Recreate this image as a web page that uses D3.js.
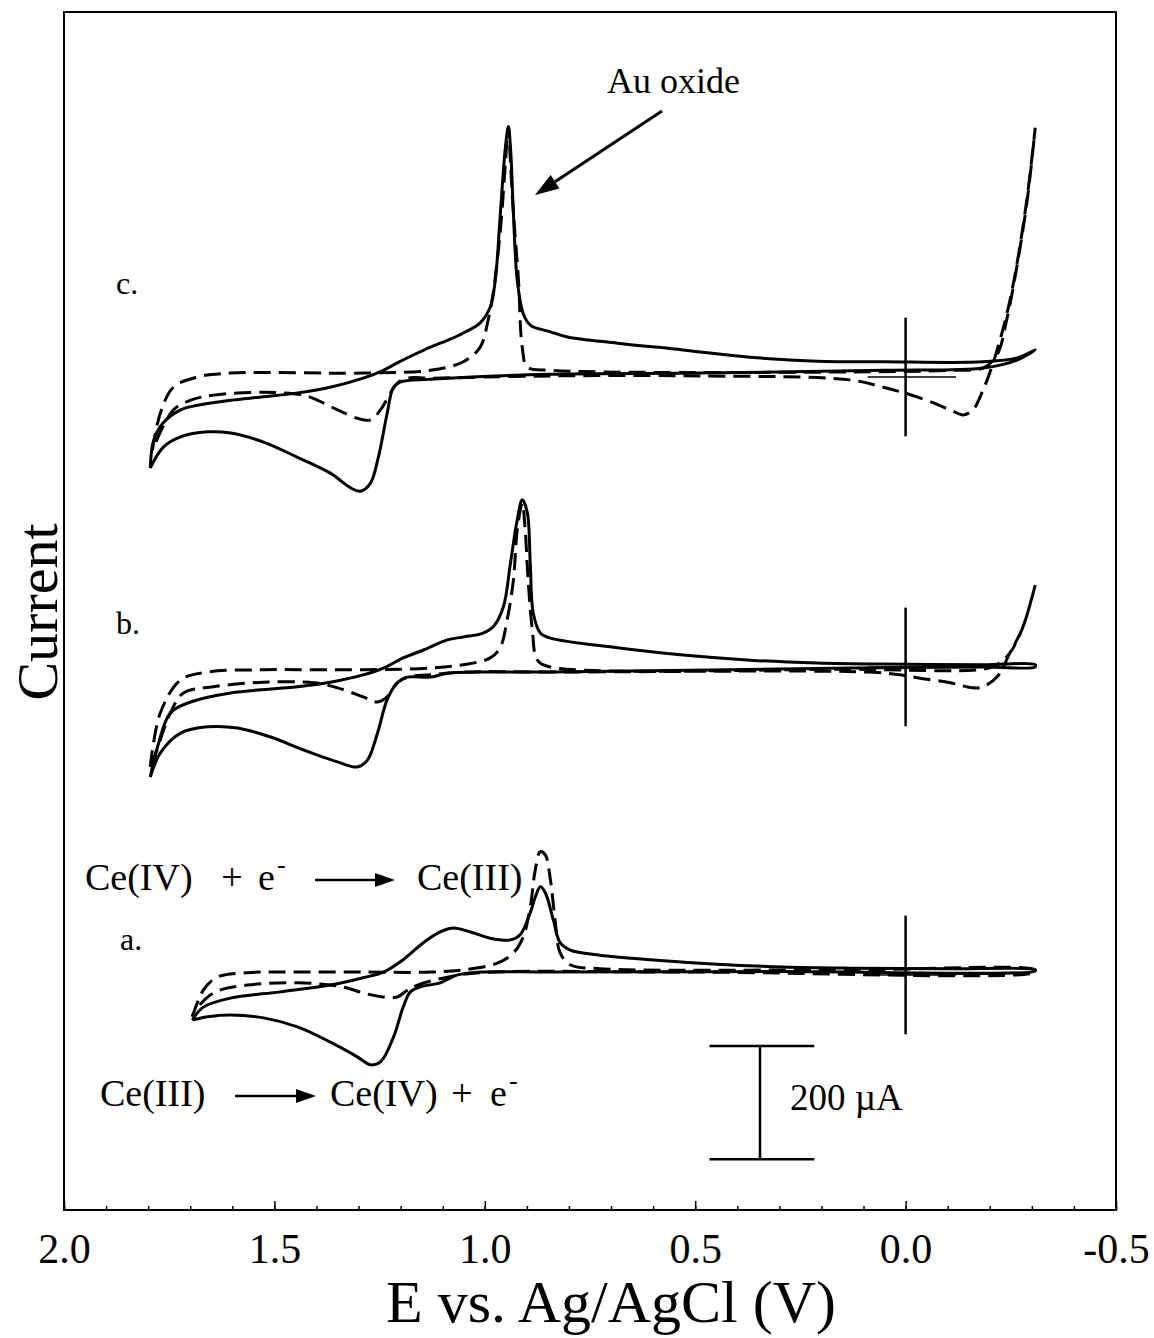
<!DOCTYPE html>
<html>
<head>
<meta charset="utf-8">
<script src="https://cdn.jsdelivr.net/npm/d3@7/dist/d3.min.js"></script>
<style>
  body { margin: 0; background: #fff; }
  text { font-family: "Liberation Serif", "Times New Roman", serif; fill: #000; }
</style>
</head>
<body>
<svg id="chart" width="1154" height="1338"></svg>
<script>
// Potential axis (V vs. Ag/AgCl), drawn high-to-low
const potentialTicks = [2.0, 1.5, 1.0, 0.5, 0.0, -0.5];
const potentialDomain = [2.0, -0.5];

// Vertical offset (µA) of each voltammogram's zero-current line: a, b, c
const traceNames = ["a.", "b.", "c."];
const traceOffsets = [416, 961, 1474];

// Each loop: cathodic sweep (high E -> low E) followed by anodic sweep back. [E (V), I (µA)]
const solidA = [
  [1.695,-80],[1.669,-57],[1.604,-41],[1.486,-30],[1.367,-18],[1.289,-5],[1.241,5],[1.194,27],
  [1.146,57],[1.106,76],[1.075,83],[1.034,76],[0.987,65],[0.939,62],[0.916,71],[0.892,110],
  [0.880,138],[0.868,156],[0.856,145],[0.837,97],[0.821,57],[0.797,44],[0.726,35],[0.607,27],
  [0.448,19],[0.291,14],[0.132,12],[-0.106,11],[-0.308,9],
  [-0.308,7],[0.300,6],[0.844,5],[1.011,5],[1.065,0],[1.106,-14],[1.153,-21],[1.177,-30],
  [1.194,-57],[1.217,-110],[1.248,-154],[1.272,-159],[1.303,-145],[1.367,-119],[1.445,-92],
  [1.526,-76],[1.604,-71],[1.659,-74],[1.695,-80]
];
const dashedA = [
  [1.695,-74],[1.669,-27],[1.636,-4],[1.564,4],[1.445,5],[1.289,5],[1.129,5],[1.051,9],
  [0.970,21],[0.932,39],[0.909,67],[0.892,120],[0.880,186],[0.868,218],[0.856,212],[0.844,168],
  [0.833,97],[0.821,39],[0.797,18],[0.726,11],[0.132,9],[-0.308,9],
  [-0.308,5],[0.500,5],[1.011,4],[1.089,-4],[1.160,-18],[1.184,-27],[1.208,-39],[1.241,-39],
  [1.289,-32],[1.327,-23],[1.367,-18],[1.445,-14],[1.564,-18],[1.645,-32],[1.692,-67],[1.695,-74]
];
const solidB = [
  [1.795,-195],[1.778,-142],[1.747,-81],[1.699,-62],[1.604,-46],[1.445,-35],[1.367,-27],
  [1.289,-14],[1.241,-2],[1.194,16],[1.146,30],[1.089,48],[1.051,53],[1.004,60],[0.980,71],
  [0.956,106],[0.939,184],[0.923,260],[0.911,296],[0.899,273],[0.892,184],[0.885,96],
  [0.868,60],[0.844,51],[0.685,34],[0.529,21],[0.369,12],[0.210,7],[0.053,5],[-0.184,4],[-0.308,4],
  [-0.308,0],[-0.184,0],[0.132,-2],[0.844,-9],[1.011,-9],[1.089,-11],[1.129,-18],[1.184,-18],
  [1.208,-28],[1.232,-58],[1.255,-117],[1.279,-165],[1.303,-177],[1.350,-168],[1.430,-147],
  [1.509,-124],[1.588,-108],[1.659,-106],[1.723,-117],[1.771,-152],[1.795,-195]
];
const dashedB = [
  [1.795,-177],[1.771,-81],[1.723,-23],[1.659,-9],[1.526,-5],[1.289,-5],[1.129,-2],[1.051,4],
  [0.987,16],[0.963,35],[0.947,83],[0.932,154],[0.923,242],[0.911,290],[0.904,242],[0.897,154],
  [0.887,65],[0.875,12],[0.844,0],[0.132,-4],[-0.184,-4],[-0.217,4],[-0.248,25],[-0.279,71],[-0.308,145],
  [-0.279,71],[-0.248,25],[-0.217,-18],[-0.184,-35],[-0.160,-37],[-0.106,-28],[-0.027,-19],
  [0.013,-14],[0.091,-9],[0.844,-9],[1.051,-9],[1.129,-14],[1.184,-18],[1.208,-28],[1.232,-53],
  [1.255,-62],[1.289,-53],[1.350,-37],[1.406,-28],[1.526,-27],[1.645,-35],[1.716,-46],
  [1.747,-81],[1.790,-170],[1.795,-177]
];
const solidC = [
  [1.795,-161],[1.787,-112],[1.764,-81],[1.723,-58],[1.683,-50],[1.604,-41],[1.526,-35],
  [1.445,-28],[1.367,-18],[1.289,-2],[1.241,12],[1.208,25],[1.170,39],[1.129,53],[1.089,65],
  [1.051,78],[1.011,96],[0.987,124],[0.975,172],[0.963,290],[0.951,407],[0.944,443],[0.939,407],
  [0.932,290],[0.923,172],[0.909,113],[0.892,92],[0.844,80],[0.804,71],[0.685,60],[0.529,48],
  [0.369,35],[0.210,28],[0.053,27],[-0.184,27],[-0.265,34],[-0.308,48],
  [-0.265,30],[-0.184,16],[0.053,12],[0.488,7],[0.844,5],[1.129,-4],[1.201,-9],[1.217,-18],
  [1.232,-64],[1.253,-142],[1.272,-188],[1.296,-202],[1.319,-196],[1.367,-170],[1.445,-142],
  [1.526,-115],[1.604,-99],[1.659,-97],[1.723,-106],[1.764,-124],[1.795,-161]
];
const dashedC = [
  [1.790,-129],[1.771,-64],[1.740,-18],[1.683,0],[1.604,7],[1.289,7],[1.129,12],[1.051,27],
  [1.011,53],[0.992,101],[0.980,149],[0.963,260],[0.951,379],[0.944,443],[0.939,379],[0.932,290],
  [0.920,172],[0.911,53],[0.899,18],[0.844,12],[0.132,9],[-0.106,12],[-0.184,16],[-0.217,39],
  [-0.241,104],[-0.265,198],[-0.289,313],[-0.308,441],
  [-0.289,319],[-0.265,202],[-0.241,113],[-0.208,25],[-0.184,-23],[-0.160,-58],[-0.137,-67],
  [-0.106,-58],[-0.027,-35],[0.053,-18],[0.132,-5],[0.488,2],[0.844,2],[1.129,-2],[1.184,-2],
  [1.208,-11],[1.224,-28],[1.248,-58],[1.272,-76],[1.303,-73],[1.350,-58],[1.398,-41],
  [1.430,-32],[1.526,-27],[1.645,-32],[1.699,-41],[1.740,-58],[1.787,-124],[1.790,-129]
];
const solidTraces = [solidA, solidB, solidC];
const dashedTraces = [dashedA, dashedB, dashedC];

// Zero-potential marker half-height and short zero-current crosshair (V)
const markerHalfHeight = 105;
const crosshairRange = [0.09, -0.12];

// 200 µA scale bar
const scaleBarE = 0.346;
const scaleBarCurrents = [90, 290];
const scaleBarWidthE = [0.466, 0.217];

const svg = d3.select("#chart");
const plotLeft = 64, plotRight = 1116, plotTop = 12, plotBottom = 1210;

const x = d3.scaleLinear().domain(potentialDomain).range([plotLeft, plotRight]);
const y = d3.scaleLinear().domain([0, 2120]).range([plotBottom, plotTop]);

// Frame
svg.append("rect")
  .attr("x", plotLeft).attr("y", plotTop)
  .attr("width", plotRight - plotLeft).attr("height", plotBottom - plotTop)
  .attr("fill", "none").attr("stroke", "#000").attr("stroke-width", 2);

// Bottom axis: minor ticks every 0.1 V, major ticks with labels every 0.5 V (ticks point inward)
const minorAxis = d3.axisBottom(x).ticks(25).tickSize(-4).tickFormat("");
svg.append("g").attr("transform", `translate(0,${plotBottom})`).call(minorAxis)
  .call(g => g.select(".domain").remove())
  .call(g => g.selectAll("line").attr("stroke-width", 1.5));

const majorAxis = d3.axisBottom(x).tickValues(potentialTicks).tickSize(-9).tickPadding(23)
  .tickFormat(d => d.toFixed(1));
svg.append("g").attr("transform", `translate(0,${plotBottom})`).call(majorAxis)
  .call(g => g.select(".domain").remove())
  .call(g => g.selectAll("line").attr("stroke-width", 1.5))
  .call(g => g.selectAll("text")
    .attr("font-family", "Liberation Serif, Times New Roman, serif")
    .attr("font-size", 42).attr("fill", "#000"));

// Axis titles
svg.append("text")
  .attr("x", 611).attr("y", 1322)
  .attr("text-anchor", "middle").attr("font-size", 60)
  .text("E vs. Ag/AgCl (V)");
svg.append("text")
  .attr("transform", "translate(57,612) rotate(-90)")
  .attr("text-anchor", "middle").attr("font-size", 58)
  .text("Current");

// Voltammograms
const line = d3.line()
  .x(d => x(d[0]))
  .curve(d3.curveCatmullRom.alpha(0.5));

traceOffsets.forEach((off, i) => {
  const yl = line.y(d => y(d[1] + off));
  svg.append("path")
    .attr("d", yl(dashedTraces[i]))
    .attr("fill", "none").attr("stroke", "#000").attr("stroke-width", 3)
    .attr("stroke-dasharray", "17,8");
  svg.append("path")
    .attr("d", yl(solidTraces[i]))
    .attr("fill", "none").attr("stroke", "#000").attr("stroke-width", 3);

  // E = 0 marker and zero-current crosshair
  svg.append("line")
    .attr("x1", x(0)).attr("x2", x(0))
    .attr("y1", y(off + markerHalfHeight)).attr("y2", y(off - markerHalfHeight))
    .attr("stroke", "#000").attr("stroke-width", 2.5);
  svg.append("line")
    .attr("x1", x(crosshairRange[0])).attr("x2", x(crosshairRange[1]))
    .attr("y1", y(off)).attr("y2", y(off))
    .attr("stroke", "#000").attr("stroke-width", 1.5);
});

// Trace labels
const labelPos = [[120, 950], [116, 634], [116, 294]];
traceNames.forEach((t, i) => {
  svg.append("text")
    .attr("x", labelPos[i][0]).attr("y", labelPos[i][1])
    .attr("font-size", 32).text(t);
});

// Arrowhead helper
function arrow(x1, y1, x2, y2, headLen, headHalf, width) {
  const ang = Math.atan2(y2 - y1, x2 - x1);
  const bx = x2 - headLen * Math.cos(ang), by = y2 - headLen * Math.sin(ang);
  svg.append("line")
    .attr("x1", x1).attr("y1", y1).attr("x2", bx).attr("y2", by)
    .attr("stroke", "#000").attr("stroke-width", width);
  const px = -Math.sin(ang) * headHalf, py = Math.cos(ang) * headHalf;
  svg.append("path")
    .attr("d", `M${x2},${y2}L${bx + px},${by + py}L${bx - px},${by - py}Z`)
    .attr("fill", "#000");
}

// Au oxide annotation
svg.append("text").attr("x", 607).attr("y", 93).attr("font-size", 36).text("Au oxide");
arrow(662, 111, 535, 195, 24, 8, 3);

// Reaction labels
const fs = 38;
function electron(xe, base) {
  svg.append("text").attr("x", xe).attr("y", base).attr("font-size", fs).text("e");
  svg.append("text").attr("x", xe + 19).attr("y", base - 17).attr("font-size", 26).text("-");
}
// Reduction (upper branch)
svg.append("text").attr("x", 85).attr("y", 890).attr("font-size", fs).text("Ce(IV)");
svg.append("text").attr("x", 232).attr("y", 890).attr("font-size", fs).attr("text-anchor", "middle").text("+");
electron(258, 890);
arrow(315, 880, 395, 880, 20, 7, 2.5);
svg.append("text").attr("x", 417).attr("y", 890).attr("font-size", fs).text("Ce(III)");
// Oxidation (lower branch)
svg.append("text").attr("x", 100).attr("y", 1106).attr("font-size", fs).text("Ce(III)");
arrow(235, 1096, 316, 1096, 20, 7, 2.5);
svg.append("text").attr("x", 330).attr("y", 1106).attr("font-size", fs).text("Ce(IV)");
svg.append("text").attr("x", 462).attr("y", 1106).attr("font-size", fs).attr("text-anchor", "middle").text("+");
electron(490, 1106);

// Scale bar
svg.append("line")
  .attr("x1", x(scaleBarE)).attr("x2", x(scaleBarE))
  .attr("y1", y(scaleBarCurrents[0])).attr("y2", y(scaleBarCurrents[1]))
  .attr("stroke", "#000").attr("stroke-width", 2.5);
scaleBarCurrents.forEach(c => {
  svg.append("line")
    .attr("x1", x(scaleBarWidthE[0])).attr("x2", x(scaleBarWidthE[1]))
    .attr("y1", y(c)).attr("y2", y(c))
    .attr("stroke", "#000").attr("stroke-width", 2.5);
});
svg.append("text").attr("x", 790).attr("y", 1110).attr("font-size", 37).text("200 \u00B5A");
</script>
</body>
</html>
